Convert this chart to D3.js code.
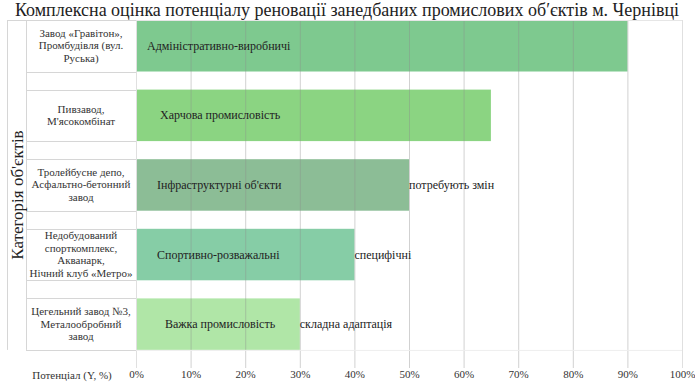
<!DOCTYPE html>
<html>
<head>
<meta charset="utf-8">
<script src="https://cdn.jsdelivr.net/npm/d3@7"></script>
<style>
  body { margin: 0; background: #fff; }
  svg text { font-family: "Liberation Serif", "DejaVu Serif", serif; }
</style>
</head>
<body>
<svg id="chart" width="695" height="384"></svg>
<script>
// --- дані ---
var objects = [
  ["Завод «Гравітон»,", "Промбудівля (вул.", "Руська)"],
  ["Пивзавод,", "М'ясокомбінат"],
  ["Тролейбусне депо,", "Асфальтно-бетонний", "завод"],
  ["Недобудований", "спорткомплекс,", "Акванарк,", "Нічний клуб «Метро»"],
  ["Цегельний завод №3,", "Металообробний", "завод"]
];
var categories = ["Адміністративно-виробничі", "Харчова промисловість", "Інфраструктурні об'єкти",
                  "Спортивно-розважальні", "Важка промисловість"];
var values = [90, 65, 50, 40, 30];
var notes = ["", "", "потребують змін", "специфічні", "складна адаптація"];
var xTicks = [0, 10, 20, 30, 40, 50, 60, 70, 80, 90, 100];

var barColors = ["#7ec98f", "#8bd482", "#8cbd96", "#86cda6", "#b0e6a7"];

var svg = d3.select("#chart");
var plotLeft = 136, plotRight = 682, plotTop = 20, plotBottom = 368;

var x = d3.scaleLinear().domain([0, 100]).range([plotLeft, plotRight]);
var y = d3.scaleBand()
    .domain(d3.range(categories.length))
    .range([plotTop, plotBottom])
    .paddingInner(0.26)
    .paddingOuter(0.13)
    .align(0);

// title
svg.append("text")
    .attr("x", 347).attr("y", 16)
    .attr("text-anchor", "middle")
    .attr("font-size", 18)
    .attr("fill", "#222")
    .text("Комплексна оцінка потенціалу реновації занедбаних промислових об′єктів м. Чернівці");

// bars
svg.append("g").selectAll("rect")
  .data(values)
  .join("rect")
    .attr("x", x(0))
    .attr("y", function(d, i) { return y(i); })
    .attr("width", function(d) { return x(d) - x(0); })
    .attr("height", y.bandwidth())
    .attr("fill", function(d, i) { return barColors[i]; });

// vertical grid (over bars, faint)
svg.append("g").selectAll("line")
  .data(xTicks)
  .join("line")
    .attr("x1", function(d) { return x(d) + 0.5; })
    .attr("x2", function(d) { return x(d) + 0.5; })
    .attr("y1", plotTop).attr("y2", plotBottom)
    .attr("stroke", function(d) { return (d == 0 || d == 100) ? "#e0e0e0" : "rgba(140,140,140,0.4)"; })
    .attr("stroke-width", 1);

// frame top & faint bottom row line
svg.append("line").attr("x1", x(0)).attr("x2", x(100)).attr("y1", plotTop + 0.5).attr("y2", plotTop + 0.5)
    .attr("stroke", "#e6e6e6");
svg.append("line").attr("x1", x(0)).attr("x2", x(100))
    .attr("y1", y(4) + y.bandwidth() + 0.5).attr("y2", y(4) + y.bandwidth() + 0.5)
    .attr("stroke", "#eeeeee");

// left table
var tbl = svg.append("g").attr("stroke", "#d6d6d6").attr("fill", "none");
var tableBottom = y(4) + y.bandwidth();
tbl.append("line").attr("x1", 7.5).attr("x2", 7.5).attr("y1", plotTop).attr("y2", tableBottom);
tbl.append("line").attr("x1", 26.5).attr("x2", 26.5).attr("y1", plotTop).attr("y2", tableBottom);
tbl.append("line").attr("x1", 7).attr("x2", plotLeft).attr("y1", plotTop + 0.5).attr("y2", plotTop + 0.5);
tbl.selectAll("line.edge")
  .data(d3.range(categories.length).flatMap(function(i) { return [y(i), y(i) + y.bandwidth()]; }))
  .join("line")
    .attr("class", "edge")
    .attr("x1", 26).attr("x2", plotLeft)
    .attr("y1", function(d) { return Math.round(d) + 0.5; })
    .attr("y2", function(d) { return Math.round(d) + 0.5; });

// object labels
var lineH = 12.5;
svg.append("g").selectAll("text")
  .data(objects)
  .join("text")
    .attr("text-anchor", "middle")
    .attr("font-size", 11)
    .attr("fill", "#333")
    .each(function(lines, i) {
      var cy = y(i) + y.bandwidth() / 2;
      var t0 = cy - (lines.length - 1) * lineH / 2 + 3.5;
      d3.select(this).selectAll("tspan")
        .data(lines)
        .join("tspan")
          .attr("x", 81)
          .attr("y", function(d, k) { return t0 + k * lineH; })
          .text(function(d) { return d; });
    });

// category labels inside bars
var inOffsets = [11, 24, 21, 21, 29];
svg.append("g").selectAll("text")
  .data(categories)
  .join("text")
    .attr("x", function(d, i) { return x(0) + inOffsets[i]; })
    .attr("y", function(d, i) { return y(i) + y.bandwidth() / 2 + 4; })
    .attr("font-size", 12)
    .attr("fill", "#222")
    .text(function(d) { return d; });

// notes after bars
svg.append("g").selectAll("text")
  .data(notes)
  .join("text")
    .attr("x", function(d, i) { return x(values[i]); })
    .attr("y", function(d, i) { return y(i) + y.bandwidth() / 2 + 4; })
    .attr("font-size", 12)
    .attr("fill", "#222")
    .text(function(d) { return d; });

// y title
svg.append("text")
    .attr("transform", "translate(23,195) rotate(-90)")
    .attr("text-anchor", "middle")
    .attr("font-size", 17)
    .attr("fill", "#222")
    .text("Категорія об'єктів");

// x axis
var xAxis = d3.axisBottom(x)
    .tickValues(xTicks)
    .tickSize(0)
    .tickPadding(0)
    .tickFormat(function(d) { return d + "%"; });
var gx = svg.append("g").attr("transform", "translate(0," + (plotBottom + 2) + ")").call(xAxis);
gx.attr("font-family", null);
gx.select(".domain").remove();
gx.selectAll("text").attr("font-size", 11).attr("fill", "#333");

svg.append("text")
    .attr("x", 72).attr("y", plotBottom + 11)
    .attr("text-anchor", "middle")
    .attr("font-size", 11)
    .attr("fill", "#333")
    .text("Потенціал (Y, %)");
</script>
</body>
</html>
